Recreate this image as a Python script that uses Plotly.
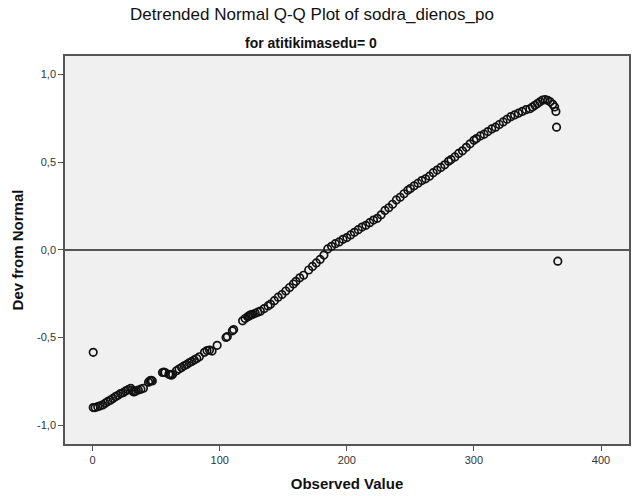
import plotly.graph_objects as go

obs_values = [0.5, 2, 4, 6, 8, 10, 12, 14, 16, 18, 20, 22, 24, 26, 28, 30, 31, 32, 33, 34,
              36, 38, 40, 44, 45, 46, 47, 55, 56, 57, 60, 61, 62, 63, 66, 68, 70, 72, 74, 76,
              78, 80, 82, 84, 88, 90, 92, 94, 98, 105, 106, 110, 111, 118, 120, 122, 123, 124, 125, 126,
              128, 130, 132, 135, 138, 140, 143, 146, 149, 152, 155, 158, 160, 163, 166, 170, 173, 176, 179, 182,
              185, 188, 191, 194, 197, 200, 203, 206, 209, 212, 215, 218, 221, 224, 227, 230, 233, 236, 239, 242,
              245, 248, 250, 253, 256, 259, 262, 265, 268, 271, 274, 277, 280, 282, 285, 288, 291, 294, 297, 300,
              302, 305, 308, 311, 314, 317, 320, 323, 326, 329, 332, 335, 338, 341, 344, 346, 348, 350, 352, 354,
              356, 358, 360, 362, 363.5, 364.5]
dev_values = [-0.900, -0.900, -0.895, -0.890, -0.885, -0.875, -0.865, -0.858, -0.848, -0.838,
              -0.830, -0.820, -0.815, -0.805, -0.798, -0.790, -0.800, -0.810, -0.810, -0.805,
              -0.800, -0.795, -0.790, -0.755, -0.748, -0.745, -0.748, -0.700, -0.698, -0.700,
              -0.710, -0.712, -0.715, -0.710, -0.690, -0.680, -0.672, -0.662, -0.655, -0.645,
              -0.637, -0.628, -0.620, -0.610, -0.585, -0.575, -0.572, -0.578, -0.545, -0.500,
              -0.495, -0.462, -0.455, -0.405, -0.392, -0.382, -0.377, -0.373, -0.370, -0.368,
              -0.362, -0.356, -0.350, -0.335, -0.320, -0.310, -0.290, -0.270, -0.255, -0.235,
              -0.215, -0.195, -0.180, -0.160, -0.145, -0.115, -0.095, -0.075, -0.055, -0.030,
              0.005, 0.020, 0.035, 0.045, 0.060, 0.070, 0.085, 0.100, 0.115, 0.130,
              0.140, 0.155, 0.170, 0.180, 0.200, 0.225, 0.240, 0.260, 0.285, 0.300,
              0.320, 0.340, 0.350, 0.365, 0.380, 0.395, 0.405, 0.420, 0.440, 0.455,
              0.470, 0.485, 0.505, 0.515, 0.530, 0.550, 0.565, 0.585, 0.605, 0.625,
              0.635, 0.650, 0.660, 0.675, 0.690, 0.700, 0.715, 0.730, 0.745, 0.760,
              0.770, 0.780, 0.790, 0.800, 0.805, 0.815, 0.825, 0.835, 0.845, 0.855,
              0.857, 0.853, 0.845, 0.830, 0.815, 0.790]
outlier_obs = [0.5, 365, 366]
outlier_dev = [-0.585, 0.700, -0.065]

x_ticks = [0, 100, 200, 300, 400]
x_tick_labels = ["0", "100", "200", "300", "400"]
y_ticks = [-1.0, -0.5, 0.0, 0.5, 1.0]
y_tick_labels = ["-1,0", "-0,5", "0,0", "0,5", "1,0"]

FONT = "Liberation Sans, Arial, sans-serif"

fig = go.Figure()
marker = dict(symbol="circle-open", size=7.5, color="#111111", line=dict(width=1.7, color="#111111"))
fig.add_trace(go.Scatter(x=obs_values, y=dev_values, mode="markers", marker=marker,
                         showlegend=False, hoverinfo="x+y"))
fig.add_trace(go.Scatter(x=outlier_obs, y=outlier_dev, mode="markers", marker=marker,
                         showlegend=False, hoverinfo="x+y"))

fig.update_layout(
    width=639, height=496,
    margin=dict(l=65, r=10, t=56, b=52, autoexpand=False),
    paper_bgcolor="white",
    plot_bgcolor="#f0f0f0",
    font=dict(family=FONT, color="#222222"),
    title=dict(text="Detrended Normal Q-Q Plot of sodra_dienos_po",
               x=312 / 639, xanchor="center", y=1 - 14 / 496, yanchor="middle", yref="container",
               font=dict(family=FONT, size=17, color="#111111")),
    annotations=[dict(text="<b>for atitikimasedu= 0</b>", xref="paper", yref="paper",
                      x=(311 - 65) / 564, y=1 + 13 / 388, xanchor="center", yanchor="middle",
                      showarrow=False,
                      font=dict(family=FONT, size=14, color="#111111"))],
    xaxis=dict(range=[-21.7, 422], tickvals=x_ticks, ticktext=x_tick_labels, automargin=False,
               showgrid=False, zeroline=False, showline=True, mirror=True,
               linecolor="#555555", linewidth=1.5, ticks="outside", ticklen=5,
               tickcolor="#555555", tickwidth=1.3, tickfont=dict(size=11, color="#333333"),
               title=dict(text="<b>Observed Value</b>", font=dict(size=15, color="#111111"),
                          standoff=14)),
    yaxis=dict(range=[-1.108, 1.106], tickvals=y_ticks, ticktext=y_tick_labels, automargin=False,
               showgrid=False, zeroline=True, zerolinecolor="#555555", zerolinewidth=1.5,
               showline=True, mirror=True,
               linecolor="#555555", linewidth=1.5, ticks="outside", ticklen=5,
               tickcolor="#555555", tickwidth=1.3, tickfont=dict(size=11, color="#333333"),
               title=dict(text="<b>Dev from Normal</b>", font=dict(size=15, color="#111111"),
                          standoff=10)),
)

fig.write_html("out.html", config={"displayModeBar": False},
               post_script="document.body.style.margin='0';")
